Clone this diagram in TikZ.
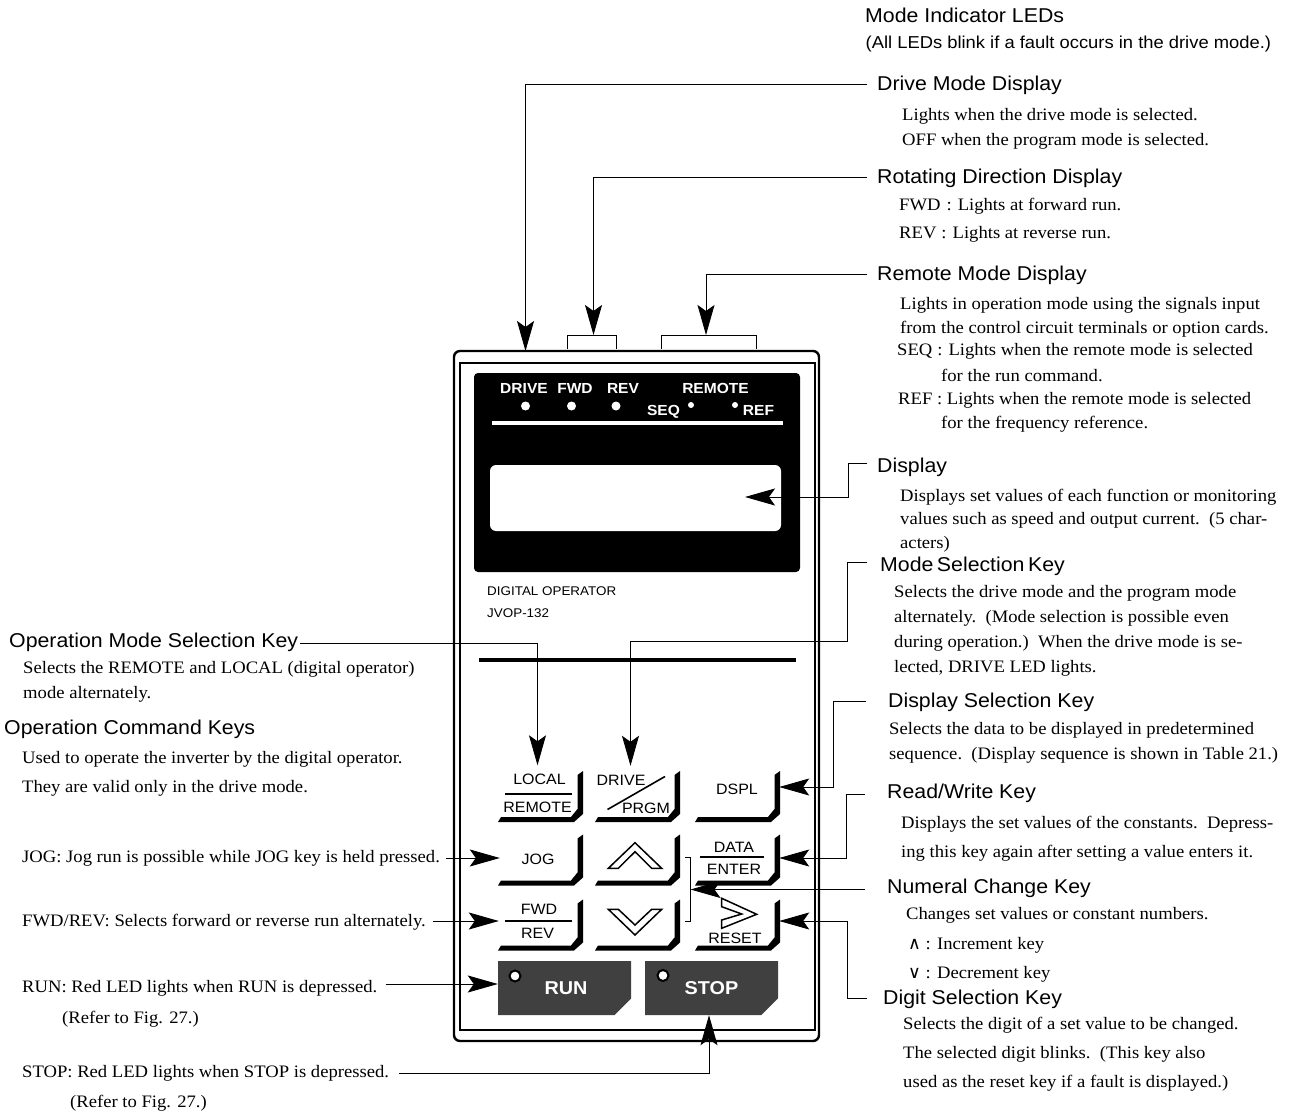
\documentclass[tikz,border=0pt]{standalone}
\usepackage{fontspec}
\setmainfont[FakeStretch=1.065]{Liberation Serif}
\setsansfont[FakeStretch=1.065]{Liberation Sans}
\newfontfamily\symfont{DejaVu Sans}
\usetikzlibrary{arrows.meta,shapes.misc}

\begin{document}
\begin{tikzpicture}[
    x=1pt, y=-1pt,
    head/.style={anchor=base west, inner xsep=0pt, inner ysep=0pt, text height=14pt, text depth=0pt, font=\fontsize{20}{24}\selectfont\sffamily},
    desc/.style={anchor=base west, inner sep=0pt, text depth=0pt, font=\fontsize{17.5}{20}\selectfont},
    small/.style={anchor=base west, inner sep=0pt, font=\fontsize{12.6}{15}\selectfont\sffamily},
    ledtext/.style={anchor=base, inner sep=0pt, text=white, font=\fontsize{14.6}{17}\selectfont\bfseries\sffamily},
    keytext/.style={anchor=base, inner sep=0pt, font=\fontsize{15}{18}\selectfont\sffamily},
    keybox/.style={inner sep=0pt, align=center, minimum height=40pt, font=\fontsize{15}{#1}\selectfont\sffamily},
    keybox/.default=18,
    leddot/.style={circle, fill=white, inner sep=0pt, minimum size=9pt},
    leddotsmall/.style={circle, fill=white, inner sep=0pt, minimum size=6pt},
    redled/.style={circle, draw=black, fill=white, line width=2pt, inner sep=0pt, minimum size=11pt},
    bigkey/.style={chamfered rectangle, chamfered rectangle corners=south east, chamfered rectangle xsep=10pt, chamfered rectangle ysep=10pt, fill=keygray, text=white, inner sep=0pt, minimum width=133pt, minimum height=54pt, font=\fontsize{18.6}{20}\selectfont\bfseries\sffamily},
    thinline/.style={line width=0.9pt},
    keyrule/.style={line width=1.6pt},
    chevron/.style={draw, line width=1.5pt, fill=white, miter limit=20},
    arrow/.style={thinline, -{Stealth[length=30pt, width=17pt, inset=6pt]}}
  ]
  \definecolor{keygray}{HTML}{404040}
  \useasboundingbox (0,0) rectangle (1293,1115);

  % housing
  \node[draw, rounded corners=6pt, line width=2.4pt, outer sep=0pt, minimum width=365pt, minimum height=690pt] (body) at (636.5,696) {};
  \node[draw, line width=2.4pt, minimum width=355pt, minimum height=667pt] (bodyinner) at (637.5,696.5) {};
  \node[fill=black, rounded corners=4pt, minimum width=326pt, minimum height=199pt] (panel) at (637,472.5) {};
  \node[fill=white, rounded corners=6pt, minimum width=291pt, minimum height=66pt] (window) at (635.5,498) {};
  \fill[white] (492,421) rectangle (783,425);
  \fill[black] (479,658) rectangle (796,662);

  % mode LEDs
  \node[ledtext] (ledname1) at (524,393) {DRIVE};
  \node[ledtext] (ledname2) at (575,393) {FWD};
  \node[ledtext] (ledname3) at (623,393) {REV};
  \node[ledtext] (ledname4) at (715.5,393) {REMOTE};
  \node[ledtext] (ledname5) at (663.5,415) {SEQ};
  \node[ledtext] (ledname6) at (758.5,415) {REF};
  \node[leddot] (drivedot) at (525.5,406) {};
  \node[leddot] (fwddot) at (571.5,406) {};
  \node[leddot] (revdot) at (616,406) {};
  \node[leddotsmall] (seqdot) at (691,405) {};
  \node[leddotsmall] (refdot) at (735,405) {};
  \node[small] (opname1) at (487,595) {DIGITAL OPERATOR};
  \node[small] (opname2) at (487,617) {JVOP-132};

  % brackets
  \coordinate (fwdtip) at (593.5,335);
  \coordinate (remotetip) at (706,335);
  \coordinate (windowtip) at (745,497);
  \draw[thinline] (567.5,349) |- (616,335) -- (616,349);
  \draw[thinline] (661,349) |- (756,335) -- (756,349);
  \draw[thinline] (685,857) -| (690.5,921) -- (685,921);
  \coordinate (numeraltip) at (690.5,889.5);

  % keys
  \foreach \kx in {583,680,780}
    \foreach \ky in {822,885.5,950.5}
      \fill (\kx-85,\ky) -- (\kx-9,\ky) -- (\kx,\ky-8) -- (\kx,\ky-51) -- (\kx-5.5,\ky-47) -- (\kx-5.5,\ky-13) -- (\kx-12,\ky-5) -- (\kx-82,\ky-5) -- cycle;

  \node[keybox=28, minimum width=78pt, minimum height=56pt] (keylocal) at (537.5,793.5) {\hspace*{4pt}LOCAL\\REMOTE};
  \draw[keyrule] (505,794) -- (572,794);
  \node[minimum width=84pt, minimum height=56pt, inner sep=0pt] (keydrive) at (630.5,794) {};
  \node[keytext] (drivename) at (621,785) {DRIVE};
  \node[keytext] (prgmname) at (646,813.5) {PRGM};
  \draw[keyrule] (607.5,809.5) -- (665,776.5);
  \node[keybox, minimum width=84pt, text height=15pt] (keydspl) at (737,787) {DSPL};
  \node[keybox, minimum width=76pt, text height=14pt] (keyjog) at (538,858) {JOG};
  \node[keybox=24, minimum width=77pt] (keyfwd) at (537.5,921) {\hspace*{3pt}FWD\\REV};
  \draw[keyrule] (505,921) -- (572,921);
  \node[keybox=22, minimum width=90pt] (keydata) at (734,858) {DATA\\ENTER};
  \draw[keyrule] (700,857) -- (764,857);
  \node[minimum width=84pt, minimum height=40pt, inner sep=0pt] (keyreset) at (737,921) {};
  \node[keytext] (resetname) at (735,943) {RESET};
  \filldraw[chevron] (608.3,868.3) -- (635,842.7) -- (661.7,868.3) -- (651.7,868.3) -- (635,851.7) -- (618.3,868.3) -- cycle;
  \filldraw[chevron] (608.3,909.3) -- (635,935) -- (661.7,909.3) -- (651.7,909.3) -- (635,925) -- (618.3,909.3) -- cycle;
  \filldraw[chevron] (721.7,898.3) -- (756.7,914.3) -- (721.7,928.3) -- (721.7,920) -- (741.7,914) -- (721.7,906.7) -- cycle;

  \node[bigkey] (keyrun) at (564.5,988) {\hspace*{3pt}RUN};
  \node[bigkey] (keystop) at (711.5,988) {STOP};
  \node[redled] (runled) at (515,976) {};
  \node[redled] (stopled) at (663,975.5) {};

  % right hand side
  \node[head] (ledhead) at (865,23) {Mode Indicator LEDs};
  \node[head, font=\fontsize{17.25}{20}\selectfont\sffamily] (ledhead2) at (865.5,49) {(All LEDs blink if a fault occurs in the drive mode.)};
  \node[head, inner xsep=10pt] (drivelabel) at (867,91) {Drive Mode Display};
  \node[desc] (drivetext1) at (902,121) {Lights when the drive mode is selected.};
  \node[desc] (drivetext2) at (902,146) {OFF when the program mode is selected.};
  \node[head, inner xsep=10pt] (rotlabel) at (867,184) {Rotating Direction Display};
  \node[desc] (rottext1) at (899,211) {FWD\hspace{6pt}:\hspace{6pt}Lights at forward run.};
  \node[desc] (rottext2) at (899,239) {REV\hspace{5pt}:\hspace{6pt}Lights at reverse run.};
  \node[head, inner xsep=10pt] (remotelabel) at (867,281) {Remote Mode Display};
  \node[desc] (remotetext1) at (900,309) {Lights in operation mode using the signals input};
  \node[desc] (remotetext2) at (900,334) {from the control circuit terminals or option cards.};
  \node[desc] (remotetext3) at (897,355) {SEQ\hspace{5pt}:\hspace{6pt}Lights when the remote mode is selected};
  \node[desc] (remotetext4) at (941,381) {for the run command.};
  \node[desc] (remotetext5) at (898,404) {REF : Lights when the remote mode is selected};
  \node[desc] (remotetext6) at (941,428) {for the frequency reference.};
  \node[head, inner xsep=10pt, text height=18pt] (displaylabel) at (867,472) {Display};
  \node[desc] (displaytext1) at (900,501) {Displays set values of each function or monitoring};
  \node[desc] (displaytext2) at (900,524) {values such as speed and output current.\ \ (5 char-};
  \node[desc] (displaytext3) at (900,548) {acters)};
  \node[head, inner xsep=13pt, text height=18pt] (modelabel) at (867,571) {Mode\hspace{3.5pt}Selection\hspace{3.5pt}Key};
  \node[desc] (modetext1) at (894,597) {Selects the drive mode and the program mode};
  \node[desc] (modetext2) at (894,622) {alternately.\ \ (Mode selection is possible even};
  \node[desc] (modetext3) at (894,647) {during operation.)\ \ When the drive mode is se-};
  \node[desc] (modetext4) at (894,672) {lected, DRIVE LED lights.};
  \node[head, inner xsep=22pt, text height=12pt] (dspllabel) at (866,707) {Display Selection Key};
  \node[desc] (dspltext1) at (889,734) {Selects the data to be displayed in predetermined};
  \node[desc] (dspltext2) at (889,759) {sequence.\ \ (Display sequence is shown in Table 21.)};
  \node[head, inner xsep=22pt, text height=8pt] (rwlabel) at (865,798) {Read/Write Key};
  \node[desc] (rwtext1) at (901,828) {Displays the set values of the constants.\ \ Depress-};
  \node[desc] (rwtext2) at (901,857) {ing this key again after setting a value enters it.};
  \node[head, inner xsep=22pt] (numerallabel) at (865,893) {Numeral Change Key};
  \node[desc] (numeraltext1) at (906,919) {Changes set values or constant numbers.};
  \node[desc] (numeraltext2) at (908,949) {{\symfont ∧} : Increment key};
  \node[desc] (numeraltext3) at (908,978) {{\symfont ∨} : Decrement key};
  \node[head, inner xsep=16pt, text height=12pt] (digitlabel) at (867,1004) {Digit Selection Key};
  \node[desc] (digittext1) at (903,1029) {Selects the digit of a set value to be changed.};
  \node[desc] (digittext2) at (903,1058) {The selected digit blinks.\ \ (This key also};
  \node[desc] (digittext3) at (903,1087) {used as the reset key if a fault is displayed.)};

  % left hand side
  \node[head, inner xsep=2pt, text height=8pt] (oplabel) at (7,647) {Operation Mode Selection Key};
  \node[desc] (optext1) at (23,673) {Selects the REMOTE and LOCAL (digital operator)};
  \node[desc] (optext2) at (23,698) {mode alternately.};
  \node[head] (cmdhead) at (4,734) {Operation Command Keys};
  \node[desc] (cmdtext1) at (22,763) {Used to operate the inverter by the digital operator.};
  \node[desc] (cmdtext2) at (22,792) {They are valid only in the drive mode.};
  \node[desc, inner xsep=6pt, text height=8pt] (joglabel) at (16,862) {JOG: Jog run is possible while JOG key is held pressed.};
  \node[desc, inner xsep=7pt, text height=10pt] (fwdlabel) at (15,926) {FWD/REV: Selects forward or reverse run alternately.};
  \node[desc, inner xsep=8pt, text height=16pt] (runlabel) at (14,992) {RUN: Red LED lights when RUN is depressed.};
  \node[desc] (runnote) at (62,1023) {(Refer to Fig. 27.)};
  \node[desc, inner xsep=10pt, text height=8pt] (stoplabel) at (12,1077) {STOP: Red LED lights when STOP is depressed.};
  \node[desc] (stopnote) at (70,1107) {(Refer to Fig. 27.)};

  % connectors
  \draw[arrow] (drivelabel.west) -| (drivedot |- body.north);
  \draw[arrow] (rotlabel.west) -| (fwdtip);
  \draw[arrow] (remotelabel.west) -| (remotetip);
  \draw[arrow] (displaylabel.west) -- ++(-19,0) |- (windowtip);
  \draw[arrow] (modelabel.west) -- ++(-20,0) -- ++(0,79) -| (keydrive.north);
  \draw[arrow] (oplabel.east) -| (keylocal.north);
  \draw[arrow] (dspllabel.west) -- ++(-33,0) |- (keydspl.east);
  \draw[arrow] (rwlabel.west) -- ++(-19,0) |- (keydata.east);
  \draw[arrow] (numerallabel.west |- numeraltip) -- (numeraltip);
  \draw[arrow] (digitlabel.west) -- ++(-20,0) |- (keyreset.east);
  \draw[arrow] (joglabel.east) -- (keyjog.west);
  \draw[arrow] (fwdlabel.east) -- (keyfwd.west);
  \draw[arrow] (runlabel.east) -- (runlabel.east -| keyrun.west);
  \draw[arrow] (stoplabel.east) -| ([xshift=-2.5pt]keystop.south);
\end{tikzpicture}
\end{document}
